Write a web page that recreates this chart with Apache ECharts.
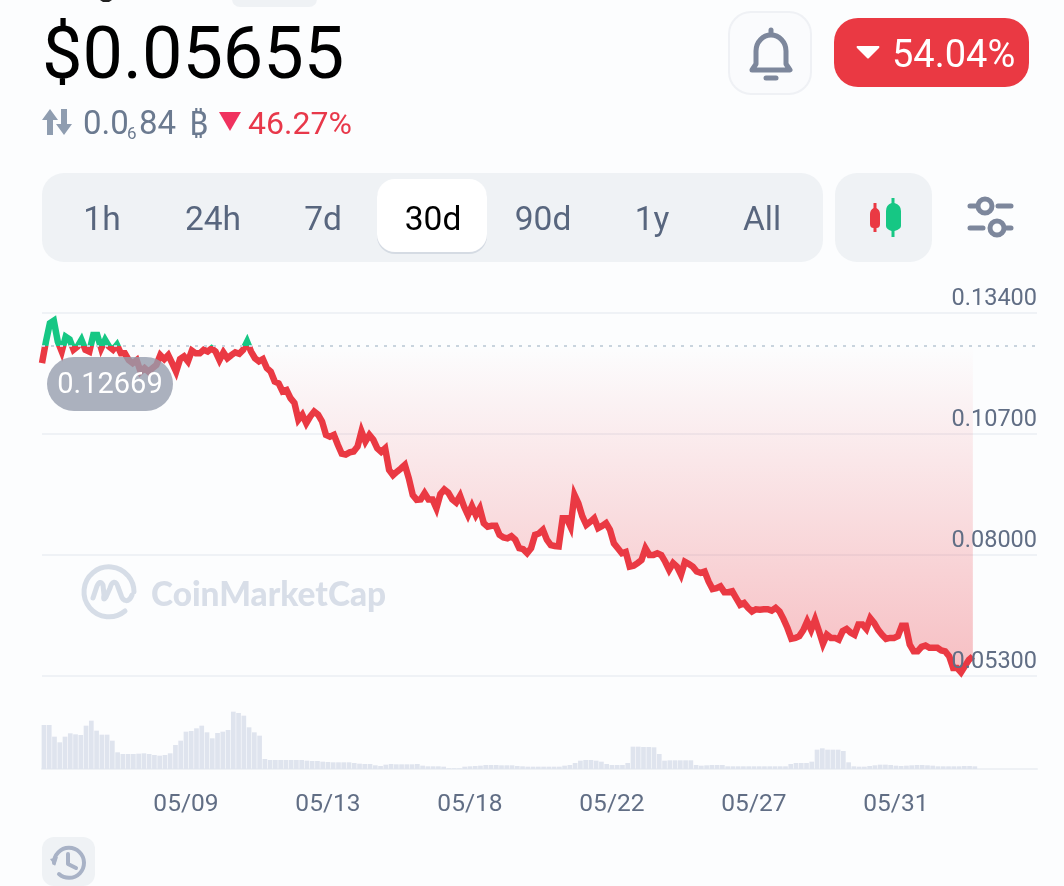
<!DOCTYPE html>
<html>
<head>
<meta charset="utf-8">
<style>html,body{margin:0;padding:0;background:#fcfdfe}#c{width:1064px;height:886px}</style>
<script src="https://cdn.jsdelivr.net/npm/echarts@6/dist/echarts.min.js"></script>
</head>
<body>
<div id="c"></div>
<script>
const basePrice = 0.12669;
const priceTicks = [0.053, 0.08, 0.107, 0.134];
const dateHours = [109.5, 217.5, 325.5, 433.5, 541.5, 649.5];
const dateLabels = ['05/09', '05/13', '05/18', '05/22', '05/27', '05/31'];
const priceStepHours = 3;
const volumeStepHours = 4;
const priceValues = [
.1228,.1276,.1317,.1323,.1276,.1254,.1287,.1281,.1258,.1265,.1280,.1258,.1254,.1291,.1291,.1261,.1280,.1265,.1258,.1269,
.1250,.1250,.1235,.1228,.1235,.1209,.1217,.1209,.1217,.1224,.1246,.1237,.1246,.1228,.1209,.1237,.1243,.1232,.1256,.1250,
.1250,.1258,.1254,.1261,.1254,.1235,.1252,.1239,.1246,.1252,.1249,.1258,.1276,.1254,.1239,.1232,.1237,.1217,.1209,.1187,
.1183,.1165,.1168,.1150,.1139,.1102,.1113,.1094,.1109,.1120,.1113,.1098,.1068,.1064,.1068,.1046,.1026,.1024,.1029,.1031,
.1042,.1076,.1053,.1068,.1057,.1038,.1030,.1038,.0990,.0978,.0986,.0993,.1001,.0971,.0934,.0923,.0924,.0938,.0924,.0924,
.0904,.0936,.0946,.0939,.0924,.0917,.0932,.0908,.0889,.0909,.0889,.0904,.0871,.0863,.0865,.0865,.0845,.0839,.0837,.0842,
.0834,.0815,.0813,.0804,.0815,.0845,.0848,.0856,.0834,.0822,.0820,.0819,.0882,.0882,.0863,.0934,.0915,.0886,.0867,.0874,
.0882,.0860,.0865,.0871,.0856,.0826,.0815,.0804,.0807,.0774,.0776,.0782,.0789,.0815,.0800,.0800,.0804,.0800,.0785,.0767,
.0782,.0774,.0756,.0785,.0780,.0774,.0763,.0760,.0763,.0741,.0724,.0726,.0730,.0717,.0717,.0719,.0704,.0689,.0693,.0682,
.0674,.0679,.0678,.0679,.0679,.0676,.0682,.0674,.0657,.0637,.0613,.0615,.0619,.0632,.0652,.0633,.0656,.0630,.0602,.0622,
.0615,.0615,.0611,.0630,.0635,.0627,.0622,.0645,.0645,.0635,.0659,.0648,.0633,.0622,.0613,.0615,.0615,.0619,.0642,.0642,
.0600,.0585,.0585,.0595,.0598,.0593,.0593,.0593,.0587,.0585,.0574,.0548,.0548,.0538,.0552,.0566,.0574
];
const volumeValues = [
132,132,97,80,97,107,104,102,130,145,115,103,103,85,50,45,45,45,46,47,45,42,40,42,47,72,85,112,114,122,
130,110,92,108,112,117,172,168,160,125,110,100,30,27,27,27,27,27,27,27,25,24,24,22,21,20,20,20,20,18,
16,15,15,11,9,13,15,14,14,14,14,15,10,8,8,8,7,2,2,2,7,8,9,10,12,12,12,11,11,11,
9,8,7,7,7,7,7,7,7,10,12,18,25,27,27,25,22,15,12,12,12,18,67,67,66,66,65,45,25,26,
26,26,26,26,12,10,11,12,12,12,8,8,8,8,8,8,8,8,8,8,8,8,15,18,18,18,22,58,62,58,
58,58,54,20,8,7,7,9,11,13,13,12,10,9,10,11,12,12,11,10,8,8,8,8,8,9,9,8
];

const FONT = 'Roboto';
const RED = '#ea3943', GREEN = '#16c784', GREY = '#58667e', ICON = '#7d879c';
let shapeCount = 0;
const pathType = d => {
  const name = 'uiPath' + (shapeCount++);
  echarts.graphic.registerShape(name, echarts.graphic.extendPath(d, {}));
  return name;
};
const rect = (x, y, w, h, r, fill, extra) => Object.assign({type: 'rect', shape: {x, y, width: w, height: h, r}, style: {fill}, z: 5}, extra || {});
const txt = (text, x, y, size, fill, align, extra) => ({type: 'text', x, y, z: 6, style: Object.assign({text, fill, fontSize: size, fontFamily: FONT, textAlign: align || 'left', textVerticalAlign: 'middle'}, extra || {})});
const fillPath = (d, fill, z) => ({type: pathType(d), style: {fill}, z: z === undefined ? 6 : z});
const strokePath = (d, stroke, w, z) => ({type: pathType(d), style: {fill: 'none', stroke, lineWidth: w, lineCap: 'round', lineJoin: 'round'}, z: z === undefined ? 6 : z});

const tabs = [['1h', 102], ['24h', 213], ['7d', 323], ['30d', 433], ['90d', 543], ['1y', 652], ['All', 762]];
const ui = [
  rect(232, -12, 85, 19, 8, '#eff2f5'),
  fillPath('M100 0 H112 L109 2 H103 Z', '#222'),
  txt('$0.05655', 42, 60, 72, '#000'),
  fillPath('M50 109 L58 120 H53 V135 H47 V120 H42 Z', '#8f9db0'),
  fillPath('M64 135 L72 124 H67 V109 H61 V124 H56 Z', '#8f9db0'),
  txt('0.0', 83, 126, 33, '#6b7a90'),
  txt('6', 127, 135, 17, '#6b7a90'),
  txt('84', 139, 126, 33, '#6b7a90'),
  txt('₿', 189, 126, 33, '#6b7a90', 'left', {fontFamily: 'Noto Sans'}),
  fillPath('M219 112 H241 L230 131 Z', '#f0325f'),
  txt('46.27%', 248, 126, 32, '#e8384a'),
  rect(42, 173, 781, 89, 22, '#eff2f5'),
  rect(377, 180, 110, 74, 18, '#d5dbe3'),
  rect(377, 179, 110, 73, 18, '#ffffff'),
  ...tabs.map(t => txt(t[0], t[1], 222, 33.5, t[0] === '30d' ? '#000' : GREY, 'center')),
  rect(835, 173, 97, 89, 22, '#eff2f5'),
  fillPath('M873.5 203 H876.5 V208 Q880 210 880 214 V224 Q880 228 876.5 228 V232 H873.5 V228 Q870 228 870 224 V214 Q870 210 873.5 208 Z', RED),
  fillPath('M891.5 198 H894.5 V203 Q901 205 901 211 V226 Q901 229 894.5 231 V237 H891.5 V231 Q886 229 886 226 V211 Q886 205 891.5 203 Z', GREEN),
  strokePath('M970 206 H977 M998 206 H1011 M970 228 H983 M1005 228 H1011', ICON, 5),
  {type: 'circle', shape: {cx: 985, cy: 206, r: 7}, style: {fill: 'none', stroke: ICON, lineWidth: 5}, z: 6},
  {type: 'circle', shape: {cx: 997, cy: 228, r: 7}, style: {fill: 'none', stroke: ICON, lineWidth: 5}, z: 6},
  rect(729, 12, 82, 82, 22, '#fafbfd', {style: {fill: '#fafbfd', stroke: '#eff1f5', lineWidth: 2}}),
  strokePath('M752 70 L756 64 V51 A15 16 0 0 1 786 51 V64 L790 70 Z', ICON, 5),
  strokePath('M771 30 V34', ICON, 5),
  strokePath('M766 78 H776', ICON, 5),
  rect(834, 18, 195, 69, 24, RED),
  fillPath('M857 46 H879 Q880 47 879 48 L869 58 Q868 59 867 58 L857 48 Q856 47 857 46 Z', '#fff'),
  txt('54.04%', 892, 57, 38, '#fff'),
  rect(42, 837, 53, 49, 12, '#eff2f5'),
  strokePath('M54 863 A15 15 0 1 1 59 874', '#a8b2c6', 4),
  fillPath('M50 859 L58 857 L55 866 Z', '#a8b2c6'),
  strokePath('M68 854 V864 L76 868', '#a8b2c6', 4),
  strokePath('M125 611 A25 25 0 1 1 134 592', '#d6dde7', 5, 0),
  strokePath('M132 595 C129 603 123 602 121 595 L118 587 C116 580 112 581 110 588 L106 597 C104 600 103 600 104 595 L103 585 C101 581 99 582 97 586 L93 598', '#d6dde7', 5, 0),
  Object.assign(txt('CoinMarketCap', 151, 595, 33.4, '#d8dee8', 'left', {fontWeight: 900, fontFamily: 'Lato'}), {z: 0}),
  rect(47, 357, 126, 54, 27, 'rgba(150,158,174,0.8)', {z: 20}),
  Object.assign(txt('0.12669', 110, 386, 29, '#fff', 'center'), {z: 21})
];

const chart = echarts.init(document.getElementById('c'), null, {width: 1064, height: 886});
chart.setOption({
  animation: false,
  backgroundColor: '#fcfdfe',
  grid: [
    {left: 42, right: 27, top: 313, height: 363},
    {left: 42, right: 27, top: 700, height: 69}
  ],
  xAxis: [
    {type: 'value', gridIndex: 0, min: 0, max: 756.8, show: false},
    {type: 'value', gridIndex: 1, min: 0, max: 756.8,
      splitLine: {show: false},
      axisLine: {show: true, onZero: false, lineStyle: {color: '#eef1f5', width: 2}},
      axisTick: {show: false, customValues: dateHours},
      axisLabel: {customValues: dateHours, margin: 23, fontSize: 24.5, fontFamily: FONT, color: '#616e85',
        formatter: v => dateLabels[dateHours.indexOf(v)] || ''}}
  ],
  yAxis: [
    {type: 'value', gridIndex: 0, position: 'right', min: 0.053, max: 0.134,
      axisLine: {show: false},
      axisTick: {show: false, customValues: priceTicks},
      splitLine: {show: true, lineStyle: {color: '#eff2f6', width: 2}},
      axisLabel: {show: false, customValues: priceTicks}},
    {type: 'value', gridIndex: 1, min: 0, max: 207, show: false},
    {type: 'value', gridIndex: 0, position: 'right', min: 0.053, max: 0.134, z: 3,
      axisLine: {show: false},
      axisTick: {show: false, customValues: priceTicks},
      splitLine: {show: false},
      axisLabel: {inside: true, customValues: priceTicks, margin: 0, fontSize: 23.5, fontFamily: FONT, color: '#616e85',
        align: 'right', verticalAlign: 'bottom', padding: [0, 0, 2, 0], showMinLabel: true, showMaxLabel: true,
        formatter: v => v.toFixed(5)}}
  ],
  visualMap: {
    show: false, seriesIndex: 0, dimension: 1,
    pieces: [{min: 0, max: basePrice, color: RED}, {min: basePrice, max: 1, color: GREEN}]
  },
  series: [
    {
      type: 'line', xAxisIndex: 0, yAxisIndex: 0, showSymbol: false, symbol: 'none', clip: false, z: 2,
      data: priceValues.map((v, i) => [i * priceStepHours, v]),
      lineStyle: {width: 6.5, join: 'miter'},
      areaStyle: {
        origin: basePrice, opacity: 1,
        color: {type: 'linear', x: 0, y: 345, x2: 0, y2: 676, global: true,
          colorStops: [{offset: 0, color: 'rgba(234,57,67,0)'}, {offset: 1, color: 'rgba(234,57,67,0.32)'}]}
      },
      markLine: {
        silent: true, symbol: 'none', precision: 5, label: {show: false},
        lineStyle: {color: '#c9d4de', type: [3, 6], width: 2},
        data: [{yAxis: basePrice}]
      }
    },
    {
      type: 'bar', xAxisIndex: 1, yAxisIndex: 1, barWidth: 4.7, clip: false,
      itemStyle: {color: '#dfe4ee'},
      data: volumeValues.map((v, i) => [1.5 + i * volumeStepHours, v])
    }
  ],
  graphic: {elements: ui}
});
</script>
</body>
</html>
